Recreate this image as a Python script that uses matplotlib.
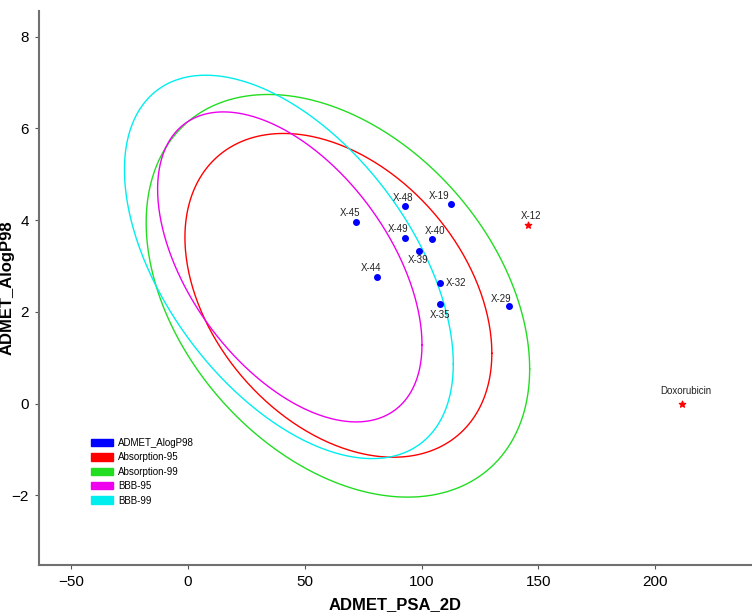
import numpy as np
import matplotlib.pyplot as plt
from matplotlib.patches import Patch

plt.rcParams['font.family'] = ['Liberation Sans', 'DejaVu Sans']

# --- data ---
compound_names = ['X-48', 'X-19', 'X-45', 'X-49', 'X-40', 'X-39',
                  'X-44', 'X-32', 'X-35', 'X-29']
psa_2d = [92.8, 112.7, 71.9, 92.8, 104.5, 99.1, 80.8, 108.1, 108.1, 137.5]
alogp98 = [4.31, 4.35, 3.96, 3.60, 3.59, 3.32, 2.75, 2.63, 2.17, 2.12]

ref_names = ['X-12', 'Doxorubicin']
ref_psa = [145.7, 211.4]
ref_alogp = [3.89, -0.02]

# ellipses: centre, half width (PSA), half height (AlogP), xy covariance term
ellipse_names = ['Absorption-95', 'Absorption-99', 'BBB-95', 'BBB-99']
ellipse_cx = [64.4, 64.2, 43.6, 43.2]
ellipse_cy = [2.36, 2.35, 2.98, 2.98]
ellipse_halfw = [65.7, 82.1, 56.6, 70.4]
ellipse_halfh = [3.53, 4.39, 3.38, 4.18]
ellipse_cov = [-83.0, -131.0, -96.0, -149.0]

# --- styling ---
ellipse_colors = ['#ff0000', '#22dd22', '#ee00ee', '#00eeee']
# label offsets in points (dx, dy) relative to the marker, plus alignment
label_offsets = [(-1, 2), (-9, 2), (-4, 3), (-5, 3), (2, 2), (-1, -3),
                 (-4, 3), (4, 0), (0, -4), (-6, 2)]
label_align = ['b', 'b', 'b', 'b', 'b', 't', 'b', 'r', 't', 'b']
ref_offsets = [(2, 3), (3, 6)]

fig = plt.figure(figsize=(7.52, 6.12), dpi=100)
ax = fig.add_axes([0.0512, 0.0768, 0.9488, 0.9052])

t = np.linspace(0, 2 * np.pi, 400)
for name, cx, cy, w, h, c, col in zip(ellipse_names, ellipse_cx, ellipse_cy,
                                      ellipse_halfw, ellipse_halfh,
                                      ellipse_cov, ellipse_colors):
    m = np.array([[w ** 2, c], [c, h ** 2]])
    pts = np.linalg.cholesky(m) @ np.vstack([np.cos(t), np.sin(t)])
    ax.plot(cx + pts[0], cy + pts[1], color=col, lw=1.0)

ax.scatter(psa_2d, alogp98, s=16, color='#0000ff', zorder=5)
for name, x, y, off, al in zip(compound_names, psa_2d, alogp98,
                               label_offsets, label_align):
    if al == 'r':
        ha, va = 'left', 'center'
    elif al == 't':
        ha, va = 'center', 'top'
    else:
        ha, va = 'center', 'bottom'
    ax.annotate(name, (x, y), xytext=off, textcoords='offset points',
                ha=ha, va=va, fontsize=7, color='#222222')

ax.scatter(ref_psa, ref_alogp, s=22, marker='*', color='#ff0000', zorder=5)
for name, x, y, off in zip(ref_names, ref_psa, ref_alogp, ref_offsets):
    ax.annotate(name, (x, y), xytext=off, textcoords='offset points',
                ha='center', va='bottom', fontsize=7, color='#222222')

ax.set_xlim(-64, 241.5)
ax.set_ylim(-3.52, 8.56)
ax.set_xticks([-50, 0, 50, 100, 150, 200])
ax.set_yticks([-2, 0, 2, 4, 6, 8])

for side in ['top', 'right']:
    ax.spines[side].set_visible(False)
for side in ['left', 'bottom']:
    ax.spines[side].set_color('#707070')
    ax.spines[side].set_linewidth(1.5)
ax.tick_params(direction='out', length=3, width=0.8, color='#555555',
               labelsize=11, pad=4)

ax.set_xlabel('ADMET_PSA_2D', fontsize=12, fontweight='bold', labelpad=6)
ax.set_ylabel('ADMET_AlogP98', fontsize=12, fontweight='bold')
ax.yaxis.set_label_coords(-0.033, 0.5)

handles = [Patch(color='#0000ff', label='ADMET_AlogP98')]
handles += [Patch(color=c, label=n) for n, c in zip(ellipse_names, ellipse_colors)]
ax.legend(handles=handles, loc='upper left',
          bbox_to_anchor=(91 / 752, 1 - 438 / 612),
          bbox_transform=fig.transFigure, frameon=False, fontsize=7,
          handlelength=2.3, handleheight=0.8, handletextpad=0.5,
          labelspacing=0.45, borderaxespad=0, borderpad=0)

fig.savefig('out.png', dpi=100)
